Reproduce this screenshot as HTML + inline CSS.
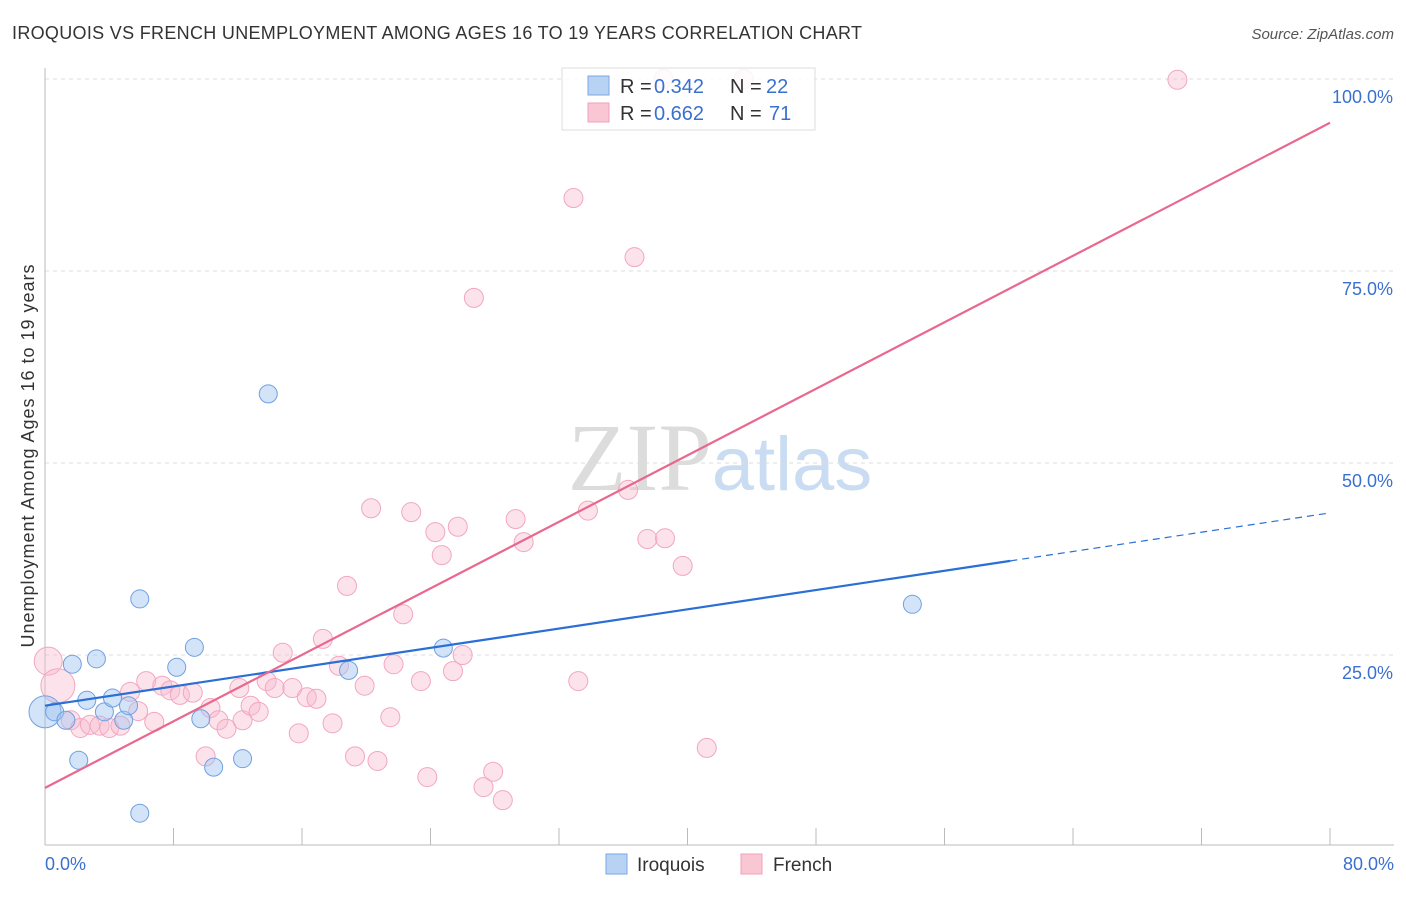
<!DOCTYPE html>
<html><head><meta charset="utf-8"><style>
body{margin:0;background:#fff;font-family:"Liberation Sans",sans-serif;}
svg text{font-family:"Liberation Sans",sans-serif;}
</style></head><body>
<svg id="chart" width="1406" height="892" xmlns="http://www.w3.org/2000/svg">
<text x="12" y="39" font-size="18" fill="#333" textLength="850" lengthAdjust="spacing">IROQUOIS VS FRENCH UNEMPLOYMENT AMONG AGES 16 TO 19 YEARS CORRELATION CHART</text>
<text x="1394" y="39" font-size="15" fill="#555" text-anchor="end" font-style="italic">Source: ZipAtlas.com</text>
<text x="720" y="490" font-size="96" text-anchor="middle"><tspan font-family="Liberation Serif,serif" fill="#dcdcdc">ZIP</tspan><tspan fill="#c9dcf2" font-size="76">atlas</tspan></text>
<g id="grid"></g>
<line x1="45" y1="68" x2="45" y2="845" stroke="#bbb"/>
<line x1="45" y1="845" x2="1394" y2="845" stroke="#bbb"/>
<g id="ticks"></g>
<text transform="translate(34,456) rotate(-90)" font-size="18" fill="#333" text-anchor="middle" textLength="383" lengthAdjust="spacing">Unemployment Among Ages 16 to 19 years</text>
<text x="45" y="870" font-size="18" fill="#3a70d0">0.0%</text>
<text x="1394" y="870" font-size="18" fill="#3a70d0" text-anchor="end">80.0%</text>
<g id="points"></g>
<g id="lines"></g>
<g>
<rect x="562" y="68" width="253" height="62" fill="rgba(255,255,255,0.85)" stroke="#ddd"/>
<rect x="588" y="76" width="21" height="19" fill="#b8d2f4" stroke="#7aa8e6"/>
<rect x="588" y="103" width="21" height="19" fill="#f9c6d4" stroke="#f0a0b8"/>
<text x="620" y="93" font-size="20" fill="#333">R =</text>
<text x="654" y="93" font-size="20" fill="#3a70d0">0.342</text>
<text x="730" y="93" font-size="20" fill="#333">N =</text>
<text x="766" y="93" font-size="20" fill="#3a70d0">22</text>
<text x="620" y="120" font-size="20" fill="#333">R =</text>
<text x="654" y="120" font-size="20" fill="#3a70d0">0.662</text>
<text x="730" y="120" font-size="20" fill="#333">N =</text>
<text x="769" y="120" font-size="20" fill="#3a70d0">71</text>
</g>
<g>
<rect x="606" y="854" width="21" height="20" fill="#b8d2f4" stroke="#7aa8e6"/>
<text x="637" y="871" font-size="19" fill="#333">Iroquois</text>
<rect x="741" y="854" width="21" height="20" fill="#f9c6d4" stroke="#f0a0b8"/>
<text x="773" y="871" font-size="19" fill="#333">French</text>
</g>
</svg>
<script>
const iroX=[0,0.6,1.3,1.7,2.1,2.6,3.2,3.7,4.2,4.9,5.2,5.9,8.2,9.3,9.7,10.5,12.3,13.9,18.9,24.8,54.0,5.9];
const iroY=[17.6,17.6,16.5,23.8,11.3,19.1,24.5,17.6,19.4,16.5,18.4,32.3,23.4,26.0,16.7,10.4,11.5,59.0,23.0,25.9,31.6,4.4];
const frX=[0.2,0.8,1.6,2.2,2.8,3.4,4.0,4.7,5.3,5.8,6.3,6.8,7.3,7.8,8.4,9.2,10.0,10.3,10.8,11.3,12.1,12.3,12.8,13.3,13.8,14.3,14.8,15.4,15.8,16.3,16.9,17.3,17.9,18.3,18.8,19.3,19.9,20.3,20.7,21.5,21.7,22.3,22.8,23.4,23.8,24.3,24.7,25.4,25.7,26.0,26.7,27.3,27.9,28.5,29.3,29.8,32.9,33.2,33.8,36.3,36.7,37.5,38.6,39.7,41.2,43.5,70.5,38.5];
const frY=[24.2,21.0,16.5,15.5,15.9,15.8,15.5,15.8,20.2,17.7,21.6,16.3,21.0,20.4,19.8,20.1,11.8,18.1,16.5,15.4,20.7,16.5,18.4,17.6,21.6,20.7,25.3,20.7,14.8,19.5,19.3,27.1,16.1,23.6,34.0,11.8,21.0,44.1,11.2,16.9,23.8,30.3,43.6,21.6,9.1,41.0,38.0,22.9,41.7,25.0,71.5,7.8,9.8,6.1,42.7,39.7,84.5,21.6,43.8,46.5,76.8,40.1,40.2,36.6,12.9,100.0,99.9,100.0];
const yTicks=[25,50,75,100];
const yTickLabels=["25.0%","50.0%","75.0%","100.0%"];
const iroTrend=[18.4,43.5]; const iroSolidEnd=60.1;
const frTrend=[7.7,94.3];
const NS="http://www.w3.org/2000/svg";
const X=v=>45+v*1285/80, Y=v=>847-v*7.68;
function mk(tag,attrs,parent){const e=document.createElementNS(NS,tag);for(const k in attrs)e.setAttribute(k,attrs[k]);document.getElementById(parent).appendChild(e);return e;}
yTicks.forEach((t,i)=>{
 const l=mk('line',{x1:45,x2:1394,y1:Y(t),y2:Y(t),stroke:'#ddd','stroke-dasharray':'4,4'},'grid');
 
 
 const tx=mk('text',{x:1393,y:Y(t)+24,'font-size':18,fill:'#3a70d0','text-anchor':'end'},'grid');
 tx.textContent=yTickLabels[i];
 
 
});
for(let i=1;i<=10;i++){
 const l=mk('line',{x1:X(i*8),x2:X(i*8),y1:828,y2:845,stroke:'#bbb'},'ticks');
 
 
}
frX.forEach((x,i)=>{
 const r=i<2?(i==0?14:17):9.5;
 const c=mk('circle',{cx:X(x),cy:Y(frY[i]),r:r,fill:'rgba(248,185,205,0.4)',stroke:'#f2a7bf','stroke-width':1},'points');
 
 
});
iroX.forEach((x,i)=>{
 const r=i==0?16:9;
 const c=mk('circle',{cx:X(x),cy:Y(iroY[i]),r:r,fill:'rgba(160,196,240,0.45)',stroke:'#6fa0e0','stroke-width':1},'points');
 
 
});
const iy=x=>iroTrend[0]+(iroTrend[1]-iroTrend[0])*x/80;
let l1=mk('line',{x1:X(0),y1:Y(iy(0)),x2:X(iroSolidEnd),y2:Y(iy(iroSolidEnd)),stroke:'#2a6fd6','stroke-width':2.2},'lines');


let l2=mk('line',{x1:X(iroSolidEnd),y1:Y(iy(iroSolidEnd)),x2:X(80),y2:Y(iy(80)),stroke:'#2a6fd6','stroke-width':1.2,'stroke-dasharray':'7,5'},'lines');


let l3=mk('line',{x1:X(0),y1:Y(frTrend[0]),x2:X(80),y2:Y(frTrend[1]),stroke:'#e8688f','stroke-width':2.2},'lines');


</script>
</body></html>
